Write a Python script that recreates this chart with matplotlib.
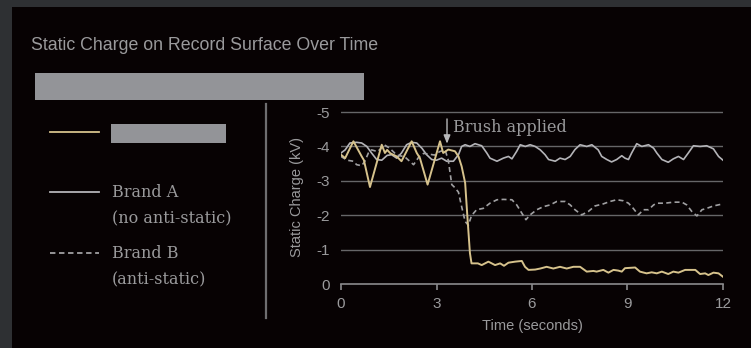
"""Static charge vs. time on a record surface (matplotlib -> out.png)"""

import matplotlib.pyplot as plt
from matplotlib.lines import Line2D
from matplotlib.patches import Rectangle

# ---- data (kV, negative charge) ----
brush_t = [0, 0.13, 0.39, 0.65, 0.72, 0.91, 1.28, 1.38, 1.45, 1.55, 1.75, 1.9, 2.22, 2.38, 2.48,
           2.72, 3.11, 3.21, 3.37, 3.58, 3.69, 3.79, 3.9, 3.97, 4.05, 4.1, 4.3, 4.42, 4.63, 4.84,
           5.0, 5.12, 5.26, 5.47, 5.68, 5.78, 5.89, 6.1, 6.26, 6.46, 6.67, 6.88, 7.09, 7.3, 7.51,
           7.72, 7.93, 8.03, 8.24, 8.4, 8.56, 8.71, 8.82, 8.92, 9.24, 9.39, 9.6, 9.76, 9.92, 10.08,
           10.28, 10.44, 10.6, 10.81, 11.13, 11.28, 11.44, 11.54, 11.7, 11.86, 12.0]
brush_kv = [-3.76, -3.66, -4.15, -3.71, -3.6, -2.82, -4.05, -3.81, -3.9, -3.8, -3.71, -3.57, -4.15,
            -3.81, -3.66, -2.89, -4.15, -3.81, -3.91, -3.86, -3.71, -3.42, -2.94, -1.96, -0.9,
            -0.6, -0.6, -0.55, -0.65, -0.55, -0.6, -0.53, -0.62, -0.65, -0.67, -0.5, -0.41, -0.42,
            -0.45, -0.5, -0.45, -0.5, -0.45, -0.5, -0.5, -0.36, -0.38, -0.36, -0.41, -0.33, -0.41,
            -0.39, -0.36, -0.46, -0.48, -0.36, -0.31, -0.34, -0.31, -0.36, -0.29, -0.36, -0.33,
            -0.41, -0.41, -0.29, -0.31, -0.26, -0.33, -0.31, -0.21]

brand_a_t = [0, 0.13, 0.28, 0.49, 0.65, 0.81, 0.96, 1.12, 1.28, 1.45, 1.59, 1.75, 1.9, 2.06, 2.22,
             2.38, 2.54, 2.69, 2.85, 3.0, 3.16, 3.32, 3.53, 3.69, 3.79, 3.9, 4.05, 4.21, 4.42, 4.58,
             4.68, 4.9, 5.1, 5.26, 5.37, 5.52, 5.63, 5.79, 5.94, 6.1, 6.26, 6.41, 6.52, 6.73, 6.88,
             7.04, 7.2, 7.35, 7.51, 7.72, 7.88, 8.08, 8.19, 8.35, 8.5, 8.66, 8.82, 8.92, 9.03, 9.13,
             9.29, 9.45, 9.66, 9.82, 9.92, 10.08, 10.28, 10.44, 10.6, 10.76, 10.91, 11.07, 11.28,
             11.49, 11.7, 11.86, 12.0]
brand_a_kv = [-3.81, -3.9, -4.1, -4.12, -4.1, -4.0, -3.81, -3.62, -3.6, -3.74, -3.76, -3.66, -3.81,
              -4.05, -4.12, -4.1, -3.95, -3.76, -3.62, -3.6, -3.66, -3.57, -3.57, -3.76, -4.0,
              -4.05, -4.0, -4.08, -4.02, -3.81, -3.66, -3.57, -3.66, -3.71, -3.64, -3.86, -4.05,
              -4.0, -4.05, -4.0, -3.9, -3.76, -3.62, -3.57, -3.66, -3.62, -3.71, -3.91, -4.05,
              -4.0, -4.05, -3.9, -3.71, -3.62, -3.55, -3.62, -3.73, -3.66, -3.62, -3.81, -4.08,
              -4.0, -4.05, -3.95, -3.81, -3.62, -3.54, -3.64, -3.71, -3.62, -3.81, -4.02, -4.0,
              -4.02, -3.93, -3.71, -3.6]

brand_b_t = [0, 0.19, 0.39, 0.49, 0.65, 0.75, 0.86, 0.96, 1.15, 1.37, 1.53, 1.75, 2.0, 2.28, 2.45,
             2.6, 2.94, 3.1, 3.27, 3.37, 3.48, 3.58, 3.69, 3.79, 3.9, 4.0, 4.1, 4.26, 4.47, 4.68,
             4.9, 5.1, 5.37, 5.52, 5.68, 5.81, 5.94, 6.15, 6.36, 6.57, 6.78, 7.04, 7.2, 7.35, 7.56,
             7.77, 7.98, 8.24, 8.45, 8.66, 8.87, 9.03, 9.18, 9.34, 9.5, 9.66, 9.82, 9.92, 10.18,
             10.44, 10.71, 10.86, 11.02, 11.18, 11.34, 11.49, 11.7, 12.0]
brand_b_kv = [-3.71, -3.6, -3.57, -3.47, -3.44, -3.57, -3.81, -3.9, -3.85, -4.04, -3.95, -3.75,
              -3.7, -3.47, -3.7, -3.8, -3.75, -3.85, -3.9, -3.6, -2.89, -2.8, -2.67, -2.25, -1.82,
              -1.71, -1.99, -2.16, -2.2, -2.35, -2.45, -2.46, -2.45, -2.3, -2.06, -1.87, -2.01,
              -2.16, -2.25, -2.3, -2.4, -2.4, -2.3, -2.16, -2.01, -2.11, -2.27, -2.33, -2.4, -2.45,
              -2.42, -2.35, -2.2, -2.01, -2.16, -2.16, -2.3, -2.35, -2.35, -2.38, -2.38, -2.3,
              -2.11, -1.98, -2.16, -2.2, -2.27, -2.33]

x_ticks = [0, 3, 6, 9, 12]
y_ticks = [0, -1, -2, -3, -4, -5]
brush_time = 3.33

GOLD = "#d6c28c"
LIGHT = "#b4b4b8"
DASH = "#a0a0a2"
TEXT = "#9a9a9c"
GRID = "#666668"
BG = "#070203"
FRAME = "#2e3033"
SANS = ["Liberation Sans", "DejaVu Sans"]

W, H = 751, 348
fig = plt.figure(figsize=(W / 100, H / 100), dpi=100, facecolor=FRAME)


def fx(px):
    return px / W


def fy(py):
    return 1 - py / H


# black panel inside the grey frame
fig.patches.append(Rectangle((fx(12), 0), 1, fy(7), transform=fig.transFigure,
                             facecolor=BG, edgecolor="none", zorder=-10))

fig.text(fx(31), fy(46), "Static Charge on Record Surface Over Time", color=TEXT,
         fontsize=12.8, family=SANS, va="center", ha="left")

# redacted subtitle / legend label blocks
fig.patches.append(Rectangle((fx(35), fy(100)), fx(364) - fx(35), fy(73) - fy(100),
                             transform=fig.transFigure, facecolor="#939498", edgecolor="none"))
fig.patches.append(Rectangle((fx(111), fy(143)), fx(226) - fx(111), fy(124) - fy(143),
                             transform=fig.transFigure, facecolor="#939498", edgecolor="none"))

# legend built by hand
legend_items = [(132, GOLD, "-", None), (192, LIGHT, "-", "Brand A\n(no anti-static)"),
                (253, DASH, (0, (3, 2)), "Brand B\n(anti-static)")]
for py, col, ls, label in legend_items:
    fig.lines.append(Line2D([fx(50), fx(99)], [fy(py), fy(py)], transform=fig.transFigure,
                            color=col, lw=1.3, ls=ls))
    if label:
        fig.text(fx(112), fy(py - 8), label, color=TEXT, fontsize=11.5, family="DejaVu Serif",
                 va="top", ha="left", linespacing=1.75)

# divider
fig.lines.append(Line2D([fx(266), fx(266)], [fy(104), fy(318)], transform=fig.transFigure,
                        color="#6e6e70", lw=1.6))

ax = fig.add_axes([fx(341), fy(284), fx(723) - fx(341), fy(110) - fy(284)])
ax.set_facecolor("none")
ax.plot(brand_a_t, brand_a_kv, color=LIGHT, lw=1.2, zorder=3)
ax.plot(brand_b_t, brand_b_kv, color=DASH, lw=1.2, ls=(0, (3, 2)), zorder=3)
ax.plot(brush_t, brush_kv, color=GOLD, lw=1.4, zorder=4)

ax.set_xlim(0, 12)
ax.set_ylim(0, -5.06)
ax.set_xticks(x_ticks)
ax.set_yticks(y_ticks)
ax.set_yticklabels([str(v) for v in y_ticks])
for v in y_ticks[1:]:
    ax.axhline(v, color=GRID, lw=1.0, zorder=1)

for s in ["top", "right", "left"]:
    ax.spines[s].set_visible(False)
ax.spines["bottom"].set_color("#8a8a8c")
ax.spines["bottom"].set_linewidth(1.2)
ax.tick_params(axis="x", colors="#8a8a8c", labelcolor=TEXT, length=4, width=1.2,
               labelsize=11, pad=5)
ax.tick_params(axis="y", length=0, labelcolor=TEXT, labelsize=11, pad=8)
for lbl in ax.get_xticklabels() + ax.get_yticklabels():
    lbl.set_family(SANS)

ax.set_xlabel("Time (seconds)", color=TEXT, fontsize=10.5, family=SANS, labelpad=6)
ax.set_ylabel("Static Charge (kV)", color=TEXT, fontsize=10.5, family=SANS, labelpad=9)

ax.annotate("", xy=(brush_time, -4.08), xytext=(brush_time, -4.8),
            arrowprops=dict(arrowstyle="-|>,head_length=0.5,head_width=0.2", color="#b8b8ba",
                            lw=1.0, shrinkA=0, shrinkB=0), zorder=5)
ax.text(brush_time + 0.2, -4.55, "Brush applied", color=TEXT, fontsize=11.5,
        family="DejaVu Serif", va="center", ha="left")

fig.savefig("out.png", dpi=100, facecolor=FRAME)
